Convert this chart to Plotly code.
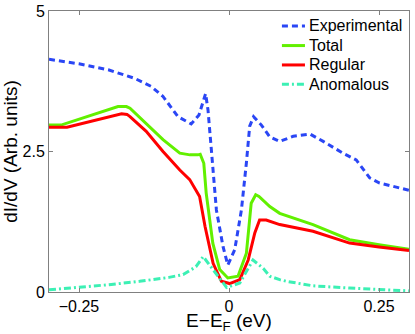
import plotly.graph_objects as go

# energy (eV) and dI/dV values
exp_x = [-0.30, -0.25, -0.20, -0.157, -0.13, -0.11, -0.085, -0.063, -0.05, -0.039,
         -0.035, -0.0305, -0.027, -0.021, -0.01, -0.002, 0.0095, 0.0207, 0.029,
         0.0345, 0.041, 0.054, 0.068, 0.0845, 0.107, 0.135, 0.157, 0.19, 0.212,
         0.2345, 0.251, 0.275, 0.30]
exp_y = [4.14, 4.06, 3.95, 3.80, 3.66, 3.48, 3.12, 2.99, 3.15, 3.53,
         3.24, 2.71, 2.20, 1.46, 0.81, 0.48, 0.75, 1.46, 2.30,
         2.95, 3.12, 2.97, 2.76, 2.68, 2.77, 2.81, 2.68, 2.47, 2.35,
         2.03, 1.94, 1.87, 1.81]

tot_x = [-0.30, -0.28, -0.185, -0.171, -0.165, -0.138, -0.11, -0.082, -0.065, -0.052,
         -0.048, -0.042, -0.038, -0.027, -0.0155, -0.002, 0.015, 0.029, 0.037,
         0.0445, 0.05, 0.068, 0.0845, 0.14, 0.201, 0.25, 0.30]
tot_y = [2.97, 2.97, 3.30, 3.30, 3.27, 3.00, 2.71, 2.47, 2.44, 2.44,
         2.45, 2.29, 1.76, 0.87, 0.40, 0.25, 0.28, 0.69, 1.58,
         1.73, 1.70, 1.52, 1.40, 1.20, 0.93, 0.84, 0.76]

reg_x = [-0.30, -0.27, -0.179, -0.17, -0.165, -0.138, -0.11, -0.082, -0.0655, -0.049,
         -0.04, -0.0265, -0.0127, 0.001, 0.018, 0.032, 0.043, 0.051, 0.062,
         0.0845, 0.14, 0.201, 0.25, 0.30]
reg_y = [2.93, 2.93, 3.17, 3.16, 3.12, 2.86, 2.50, 2.17, 2.00, 1.70,
         1.17, 0.51, 0.19, 0.15, 0.22, 0.57, 1.05, 1.28, 1.28,
         1.20, 1.08, 0.87, 0.80, 0.74]

ano_x = [-0.30, -0.25, -0.20, -0.149, -0.10, -0.0765, -0.055, -0.043, -0.0265, -0.004,
         0.018, 0.04, 0.057, 0.068, 0.0845, 0.096, 0.14, 0.201, 0.30]
ano_y = [0.04, 0.08, 0.13, 0.19, 0.26, 0.31, 0.45, 0.63, 0.39, 0.08,
         0.16, 0.57, 0.42, 0.28, 0.22, 0.19, 0.11, 0.07, 0.02]

x_ticks = [-0.25, 0, 0.25]
y_ticks = [0, 2.5, 5]

series = [
    ("Experimental", exp_x, exp_y, dict(color="#2a46f5", width=3, dash="6px,4px")),
    ("Total", tot_x, tot_y, dict(color="#62f000", width=3)),
    ("Regular", reg_x, reg_y, dict(color="#ff0000", width=3)),
    ("Anomalous", ano_x, ano_y, dict(color="#3cf0b4", width=3, dash="7px,3px,2px,3px")),
]

fig = go.Figure()
for name, xs, ys, line in series:
    fig.add_trace(go.Scatter(x=xs, y=ys, mode="lines", name=name, line=line,
                             showlegend=False))

# hand-made legend (matplotlib-like compact rows), in paper coordinates
leg_y = [0.947, 0.877, 0.808, 0.739]
for (name, _, _, line), ly in zip(series, leg_y):
    fig.add_shape(type="line", xref="paper", yref="paper",
                  x0=0.647, x1=0.711, y0=ly, y1=ly, line=line)
    fig.add_annotation(text=name, xref="paper", yref="paper", x=0.717, y=ly,
                       xanchor="left", yanchor="middle", showarrow=False,
                       font=dict(size=16, color="black"))

axis_style = dict(showline=True, linecolor="#808080", linewidth=1, mirror="ticks",
                  ticks="inside", ticklen=4, tickcolor="#808080", showgrid=False,
                  zeroline=False, automargin=False,
                  tickfont=dict(size=16, color="black"))

fig.update_layout(
    width=415, height=334,
    margin=dict(l=49, r=6, t=11, b=42),
    plot_bgcolor="white", paper_bgcolor="white",
    font=dict(family="Liberation Sans, Arial, sans-serif", size=16, color="black"),
    xaxis=dict(range=[-0.3, 0.3], tickvals=x_ticks,
               title=dict(text="E\u2212E<sub>F</sub> (eV)", standoff=2), **axis_style),
    yaxis=dict(range=[0, 5], tickvals=y_ticks,
               title=dict(text="dI/dV (Arb. units)", standoff=2), **axis_style),
)

fig.write_html("out.html", config={"displayModeBar": False},
               post_script="document.body.style.margin='0';")
